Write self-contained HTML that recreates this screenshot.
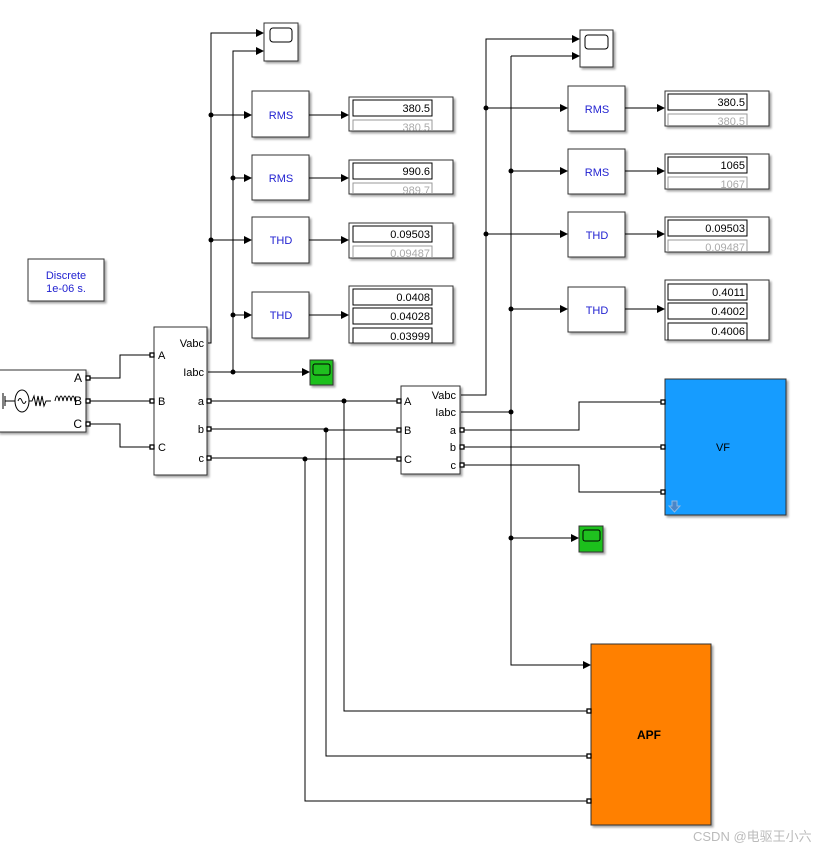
<!DOCTYPE html>
<html><head><meta charset="utf-8"><style>
html,body{margin:0;padding:0;background:#fff;}
svg{display:block;font-family:"Liberation Sans",sans-serif;}
</style></head><body>
<svg width="836" height="853" viewBox="0 0 836 853" xmlns="http://www.w3.org/2000/svg">
<defs>
<marker id="ar" markerWidth="8" markerHeight="8" refX="7" refY="4" orient="auto" markerUnits="userSpaceOnUse"><path d="M0,0 L8,4 L0,8 Z" fill="#000"/></marker>
<filter id="sh" x="-10%" y="-10%" width="130%" height="130%"><feDropShadow dx="2" dy="2" stdDeviation="1" flood-color="#000" flood-opacity="0.35"/></filter>
</defs>
<rect width="836" height="853" fill="#fff"/>

<rect x="28" y="259" width="76" height="42" fill="#fff" stroke="#333" filter="url(#sh)"/>
<text x="66" y="279" font-size="11" fill="#1f1fd0" text-anchor="middle">Discrete</text>
<text x="66" y="292" font-size="11" fill="#1f1fd0" text-anchor="middle">1e-06 s.</text>

<rect x="-2" y="370" width="88" height="62" fill="#fff" stroke="#333" filter="url(#sh)"/>
<g stroke="#000" fill="none" stroke-width="1">
<line x1="3" y1="393" x2="3" y2="409"/><line x1="5" y1="396" x2="5" y2="406"/>
<line x1="5" y1="401" x2="15" y2="401"/>
<ellipse cx="22" cy="401" rx="7" ry="11"/><path d="M18,401 q2,-5 4,0 q2,5 4,0"/>
<path d="M29,401 h3 l2,-5 l2,10 l2,-10 l2,10 l2,-10 l2,10 l2,-5 h5"/>
<path d="M55,401 q2,-10 4,0 q2,-10 4,0 q2,-10 4,0 q2,-10 4,0 q2,-10 4,0 h2"/>
</g>
<text x="82" y="382" font-size="12" text-anchor="end">A</text>
<text x="82" y="405" font-size="12" text-anchor="end">B</text>
<text x="82" y="428" font-size="12" text-anchor="end">C</text>

<rect x="154" y="327" width="53" height="148" fill="#fff" stroke="#333" filter="url(#sh)"/>
<g font-size="11">
<text x="158" y="359">A</text><text x="158" y="405">B</text><text x="158" y="451">C</text>
<text x="204" y="347" text-anchor="end">Vabc</text>
<text x="204" y="376" text-anchor="end">Iabc</text>
<text x="204" y="405" text-anchor="end">a</text>
<text x="204" y="433" text-anchor="end">b</text>
<text x="204" y="462" text-anchor="end">c</text>
</g>

<rect x="401" y="386" width="59" height="88" fill="#fff" stroke="#333" filter="url(#sh)"/>
<g font-size="11">
<text x="404" y="405">A</text><text x="404" y="434">B</text><text x="404" y="463">C</text>
<text x="456" y="399" text-anchor="end">Vabc</text>
<text x="456" y="416" text-anchor="end">Iabc</text>
<text x="456" y="434" text-anchor="end">a</text>
<text x="456" y="451" text-anchor="end">b</text>
<text x="456" y="469" text-anchor="end">c</text>
</g>

<rect x="264" y="23" width="34" height="38" fill="#fff" stroke="#333" filter="url(#sh)"/>
<rect x="270" y="28" width="22" height="14" rx="3" fill="#fff" stroke="#000"/>
<rect x="580" y="30" width="33" height="37" fill="#fff" stroke="#333" filter="url(#sh)"/>
<rect x="585" y="35" width="23" height="14" rx="3" fill="#fff" stroke="#000"/>
<rect x="310" y="360" width="23" height="25" fill="#1fc01f" stroke="#333" filter="url(#sh)"/>
<rect x="313" y="364" width="17" height="11" rx="2" fill="#1fc01f" stroke="#000"/>
<rect x="579" y="526" width="24" height="26" fill="#1fc01f" stroke="#333" filter="url(#sh)"/>
<rect x="583" y="530" width="17" height="11" rx="2" fill="#1fc01f" stroke="#000"/>

<g font-size="11" fill="#1f1fd0" text-anchor="middle">
<rect x="252" y="91" width="57" height="46" fill="#fff" stroke="#333" filter="url(#sh)"/><text x="281" y="119">RMS</text>
<rect x="252" y="155" width="57" height="45" fill="#fff" stroke="#333" filter="url(#sh)"/><text x="281" y="182">RMS</text>
<rect x="252" y="217" width="57" height="46" fill="#fff" stroke="#333" filter="url(#sh)"/><text x="281" y="244">THD</text>
<rect x="252" y="292" width="57" height="46" fill="#fff" stroke="#333" filter="url(#sh)"/><text x="281" y="319">THD</text>
<rect x="568" y="86" width="57" height="45" fill="#fff" stroke="#333" filter="url(#sh)"/><text x="597" y="113">RMS</text>
<rect x="568" y="149" width="57" height="45" fill="#fff" stroke="#333" filter="url(#sh)"/><text x="597" y="176">RMS</text>
<rect x="568" y="212" width="57" height="45" fill="#fff" stroke="#333" filter="url(#sh)"/><text x="597" y="239">THD</text>
<rect x="568" y="287" width="57" height="45" fill="#fff" stroke="#333" filter="url(#sh)"/><text x="597" y="314">THD</text>
</g>

<g font-size="11" text-anchor="end">
<rect x="349" y="97" width="104" height="34" fill="#fff" stroke="#333" filter="url(#sh)"/>
<rect x="353" y="100" width="79" height="16" fill="#fff" stroke="#000"/><text x="430" y="112">380.5</text>
<path d="M353,131 V120 H432 V131" fill="none" stroke="#999"/><text x="430" y="131" fill="#aaa">380.5</text>
<rect x="349" y="160" width="104" height="34" fill="#fff" stroke="#333" filter="url(#sh)"/>
<rect x="353" y="163" width="79" height="16" fill="#fff" stroke="#000"/><text x="430" y="175">990.6</text>
<path d="M353,194 V183 H432 V194" fill="none" stroke="#999"/><text x="430" y="194" fill="#aaa">989.7</text>
<rect x="349" y="223" width="104" height="35" fill="#fff" stroke="#333" filter="url(#sh)"/>
<rect x="353" y="226" width="79" height="16" fill="#fff" stroke="#000"/><text x="430" y="238">0.09503</text>
<path d="M353,258 V246 H432 V258" fill="none" stroke="#999"/><text x="430" y="257" fill="#aaa">0.09487</text>
<rect x="349" y="286" width="104" height="57" fill="#fff" stroke="#333" filter="url(#sh)"/>
<rect x="353" y="289" width="79" height="16" fill="#fff" stroke="#000"/><text x="430" y="301">0.0408</text>
<rect x="353" y="308" width="79" height="16" fill="#fff" stroke="#000"/><text x="430" y="320">0.04028</text>
<path d="M353,343 V328 H432 V343" fill="none" stroke="#000"/><text x="430" y="340">0.03999</text>

<rect x="665" y="91" width="104" height="35" fill="#fff" stroke="#333" filter="url(#sh)"/>
<rect x="668" y="94" width="79" height="16" fill="#fff" stroke="#000"/><text x="745" y="106">380.5</text>
<path d="M668,126 V114 H747 V126" fill="none" stroke="#999"/><text x="745" y="125" fill="#aaa">380.5</text>
<rect x="665" y="154" width="104" height="35" fill="#fff" stroke="#333" filter="url(#sh)"/>
<rect x="668" y="157" width="79" height="16" fill="#fff" stroke="#000"/><text x="745" y="169">1065</text>
<path d="M668,189 V177 H747 V189" fill="none" stroke="#999"/><text x="745" y="188" fill="#aaa">1067</text>
<rect x="665" y="217" width="104" height="35" fill="#fff" stroke="#333" filter="url(#sh)"/>
<rect x="668" y="220" width="79" height="16" fill="#fff" stroke="#000"/><text x="745" y="232">0.09503</text>
<path d="M668,252 V240 H747 V252" fill="none" stroke="#999"/><text x="745" y="251" fill="#aaa">0.09487</text>
<rect x="665" y="280" width="104" height="60" fill="#fff" stroke="#333" filter="url(#sh)"/>
<rect x="668" y="284" width="79" height="16" fill="#fff" stroke="#000"/><text x="745" y="296">0.4011</text>
<rect x="668" y="303" width="79" height="16" fill="#fff" stroke="#000"/><text x="745" y="315">0.4002</text>
<path d="M668,340 V323 H747 V340" fill="none" stroke="#000"/><text x="745" y="335">0.4006</text>
</g>

<rect x="665" y="379" width="121" height="136" fill="#189cff" stroke="#333" filter="url(#sh)"/>
<text x="723" y="451" font-size="11" text-anchor="middle">VF</text>
<path d="M672,501 h5 v5 h3 l-5.5,6 l-5.5,-6 h3 z" fill="#4a86c8" stroke="#8fb8e0"/>

<rect x="591" y="644" width="120" height="181" fill="#ff8000" stroke="#333" filter="url(#sh)"/>
<text x="649" y="739" font-size="12" font-weight="bold" text-anchor="middle">APF</text>

<g stroke="#000" fill="none" stroke-width="1">
<path d="M88,378 H120 V355 H151"/>
<path d="M88,401 H151"/>
<path d="M88,424 H120 V447 H151"/>
<path d="M208,343 H211 V33 H263" marker-end="url(#ar)"/>
<path d="M233,372 V51 H263" marker-end="url(#ar)"/>
<path d="M208,372 H309" marker-end="url(#ar)"/>
<path d="M211,115 H251" marker-end="url(#ar)"/>
<path d="M233,178 H251" marker-end="url(#ar)"/>
<path d="M211,240 H251" marker-end="url(#ar)"/>
<path d="M233,315 H251" marker-end="url(#ar)"/>
<path d="M309,115 H348" marker-end="url(#ar)"/>
<path d="M309,178 H348" marker-end="url(#ar)"/>
<path d="M309,240 H348" marker-end="url(#ar)"/>
<path d="M309,315 H348" marker-end="url(#ar)"/>
<path d="M208,401 H398"/>
<path d="M208,429 H325 V430 H398"/>
<path d="M208,458 H305 V459 H398"/>
<path d="M344,401 V711 H589"/>
<path d="M326,430 V756 H589"/>
<path d="M305,459 V801 H589"/>
<path d="M461,395 H486 V39 H579" marker-end="url(#ar)"/>
<path d="M461,412 H511"/>
<path d="M511,56 H579" marker-end="url(#ar)"/>
<path d="M511,56 V665 H590" marker-end="url(#ar)"/>
<path d="M486,108 H567" marker-end="url(#ar)"/>
<path d="M511,171 H567" marker-end="url(#ar)"/>
<path d="M486,234 H567" marker-end="url(#ar)"/>
<path d="M511,309 H567" marker-end="url(#ar)"/>
<path d="M625,108 H664" marker-end="url(#ar)"/>
<path d="M625,171 H664" marker-end="url(#ar)"/>
<path d="M625,234 H664" marker-end="url(#ar)"/>
<path d="M625,309 H664" marker-end="url(#ar)"/>
<path d="M511,538 H578" marker-end="url(#ar)"/>
<path d="M461,430 H579 V402 H663"/>
<path d="M461,447 H663"/>
<path d="M461,465 H579 V492 H663"/>
</g>

<g fill="#000">
<circle cx="211" cy="115" r="2.5"/><circle cx="211" cy="240" r="2.5"/>
<circle cx="233" cy="178" r="2.5"/><circle cx="233" cy="315" r="2.5"/><circle cx="233" cy="372" r="2.5"/>
<circle cx="344" cy="401" r="2.5"/><circle cx="326" cy="430" r="2.5"/><circle cx="305" cy="459" r="2.5"/>
<circle cx="486" cy="108" r="2.5"/><circle cx="486" cy="234" r="2.5"/>
<circle cx="511" cy="171" r="2.5"/><circle cx="511" cy="309" r="2.5"/><circle cx="511" cy="412" r="2.5"/><circle cx="511" cy="538" r="2.5"/>
</g>

<g fill="#fff" stroke="#000" stroke-width="1.3">
<rect x="86" y="376" width="4" height="4"/><rect x="86" y="399" width="4" height="4"/><rect x="86" y="422" width="4" height="4"/>
<rect x="150" y="353" width="4" height="4"/><rect x="150" y="399" width="4" height="4"/><rect x="150" y="445" width="4" height="4"/>
<rect x="207" y="399" width="4" height="4"/><rect x="207" y="427" width="4" height="4"/><rect x="207" y="456" width="4" height="4"/>
<rect x="397" y="399" width="4" height="4"/><rect x="397" y="428" width="4" height="4"/><rect x="397" y="457" width="4" height="4"/>
<rect x="460" y="428" width="4" height="4"/><rect x="460" y="445" width="4" height="4"/><rect x="460" y="463" width="4" height="4"/>
<rect x="661" y="400" width="4" height="4"/><rect x="661" y="445" width="4" height="4"/><rect x="661" y="490" width="4" height="4"/>
<rect x="587" y="709" width="4" height="4"/><rect x="587" y="754" width="4" height="4"/><rect x="587" y="799" width="4" height="4"/>
</g>

<text x="693" y="841" font-size="13" fill="#bbb" font-family="'Liberation Sans','Noto Sans CJK SC',sans-serif">CSDN @电驱王小六</text>
</svg>
</body></html>
